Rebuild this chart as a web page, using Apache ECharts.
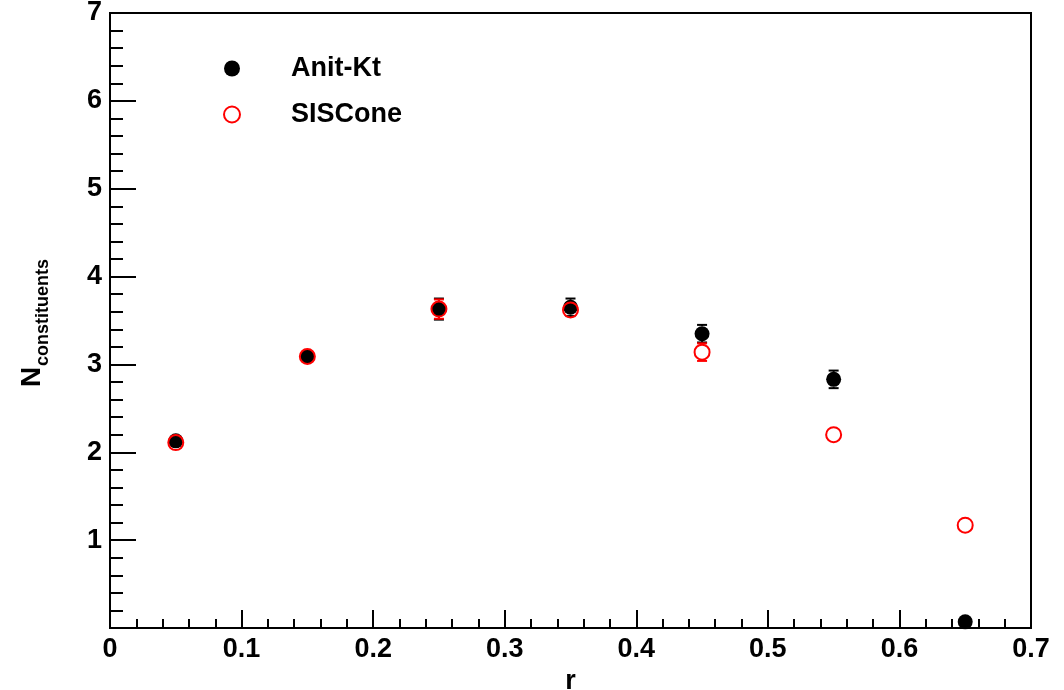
<!DOCTYPE html>
<html>
<head>
<meta charset="utf-8">
<script src="https://cdn.jsdelivr.net/npm/echarts@6/dist/echarts.min.js"></script>
<style>
  html, body { margin: 0; padding: 0; background: #fff; }
  #chart { width: 1064px; height: 690px; }
</style>
</head>
<body>
<div id="chart"></div>
<script>
// Mean number of jet constituents versus radial distance r
const rValues = [0.05, 0.15, 0.25, 0.35, 0.45, 0.55, 0.65];

const antiKtN   = [2.13, 3.09, 3.63, 3.65, 3.35, 2.83, 0.07];
const antiKtErr = [0.03, 0.03, 0.12, 0.10, 0.10, 0.10, 0.03];

const sisConeN   = [2.11, 3.09, 3.63, 3.62, 3.14, 2.20, 1.17];
const sisConeErr = [0.03, 0.03, 0.11, 0.06, 0.10, 0.05, 0.05];

const xTicks = [0, 0.1, 0.2, 0.3, 0.4, 0.5, 0.6, 0.7];
const yTicks = [0, 1, 2, 3, 4, 5, 6, 7];

const FONT = '"Liberation Sans", Arial, Helvetica, sans-serif';
const MARKER = 15;

function points(ys) {
  return rValues.map((x, i) => [x, ys[i]]);
}
function errorRows(ys, errs) {
  return rValues.map((x, i) => [x, ys[i], ys[i] - errs[i], ys[i] + errs[i]]);
}

// Vertical error bar with end caps; the part hidden under the marker is skipped
function errorBarRenderer(color) {
  return function (params, api) {
    const x = api.value(0);
    const c = api.coord([x, api.value(1)]);
    const lo = api.coord([x, api.value(2)]);
    const hi = api.coord([x, api.value(3)]);
    const r = MARKER / 2;
    const cap = 5;
    const style = { stroke: color, lineWidth: 2, fill: null };
    const children = [];
    if (c[1] - hi[1] > r) {
      children.push({ type: 'line', shape: { x1: c[0], y1: c[1] - r, x2: hi[0], y2: hi[1] }, style });
      children.push({ type: 'line', shape: { x1: hi[0] - cap, y1: hi[1], x2: hi[0] + cap, y2: hi[1] }, style });
    }
    if (lo[1] - c[1] > r) {
      children.push({ type: 'line', shape: { x1: c[0], y1: c[1] + r, x2: lo[0], y2: lo[1] }, style });
      children.push({ type: 'line', shape: { x1: lo[0] - cap, y1: lo[1], x2: lo[0] + cap, y2: lo[1] }, style });
    }
    return { type: 'group', children };
  };
}

const chart = echarts.init(document.getElementById('chart'), null, { renderer: 'canvas' });

const axisLineStyle = { color: '#000', width: 2 };

chart.setOption({
  backgroundColor: '#fff',
  animation: false,
  grid: {
    left: 110, top: 13, right: 33, bottom: 62,
    containLabel: false,
    outerBoundsMode: 'none',
    show: true, borderColor: '#000', borderWidth: 2, backgroundColor: 'transparent'
  },
  legend: {
    orient: 'vertical',
    left: 223, top: 55,
    padding: 0,
    itemWidth: 16, itemHeight: 16,
    itemGap: 19,
    data: ['Anit-Kt', 'SISCone'],
    textStyle: {
      fontFamily: FONT, fontWeight: 'bold', fontSize: 27, color: '#000',
      padding: [0, 0, 0, 46]
    }
  },
  xAxis: {
    type: 'value',
    min: xTicks[0], max: xTicks[xTicks.length - 1], interval: 0.1,
    name: 'r',
    nameLocation: 'middle',
    nameGap: 38,
    nameTextStyle: { fontFamily: FONT, fontWeight: 'bold', fontSize: 27, color: '#000' },
    axisLine: { show: true, onZero: false, lineStyle: axisLineStyle },
    axisTick: { show: true, inside: true, length: 18, lineStyle: axisLineStyle },
    minorTick: { show: true, splitNumber: 5, length: 9, lineStyle: axisLineStyle },
    splitLine: { show: false },
    axisLabel: {
      margin: 8,
      fontFamily: FONT, fontWeight: 'bold', fontSize: 27, color: '#000',
      formatter: v => String(Math.round(v * 10) / 10)
    }
  },
  yAxis: {
    type: 'value',
    min: yTicks[0], max: yTicks[yTicks.length - 1], interval: 1,
    axisLine: { show: true, onZero: false, lineStyle: axisLineStyle },
    axisTick: { show: true, inside: true, length: 26, lineStyle: axisLineStyle },
    minorTick: { show: true, splitNumber: 5, length: 13, lineStyle: axisLineStyle },
    splitLine: { show: false },
    axisLabel: {
      margin: 8,
      fontFamily: FONT, fontWeight: 'bold', fontSize: 27, color: '#000',
      formatter: v => (v === 0 ? '' : String(v))
    }
  },
  graphic: [
    {
      type: 'group',
      rotation: Math.PI / 2,
      x: 32, y: 387,
      children: [
        {
          type: 'text', x: 0, y: 0,
          style: {
            text: 'N', fontFamily: FONT, fontWeight: 'bold', fontSize: 28, fill: '#000',
            textAlign: 'left', textVerticalAlign: 'middle'
          }
        },
        {
          type: 'text', x: 21, y: 11,
          style: {
            text: 'constituents', fontFamily: FONT, fontWeight: 'bold', fontSize: 18, fill: '#000',
            textAlign: 'left', textVerticalAlign: 'middle'
          }
        }
      ]
    }
  ],
  series: [
    {
      type: 'custom',
      renderItem: errorBarRenderer('#000'),
      data: errorRows(antiKtN, antiKtErr),
      encode: { x: 0, y: [2, 3] },
      silent: true
    },
    {
      name: 'Anit-Kt',
      type: 'scatter',
      symbol: 'circle',
      symbolSize: MARKER,
      itemStyle: { color: '#000', opacity: 1 },
      data: points(antiKtN)
    },
    {
      type: 'custom',
      renderItem: errorBarRenderer('#ff0000'),
      data: errorRows(sisConeN, sisConeErr),
      encode: { x: 0, y: [2, 3] },
      silent: true
    },
    {
      name: 'SISCone',
      type: 'scatter',
      symbol: 'circle',
      symbolSize: MARKER,
      itemStyle: { color: 'rgba(0,0,0,0)', borderColor: '#ff0000', borderWidth: 2, opacity: 1 },
      data: points(sisConeN)
    }
  ]
});
</script>
</body>
</html>
